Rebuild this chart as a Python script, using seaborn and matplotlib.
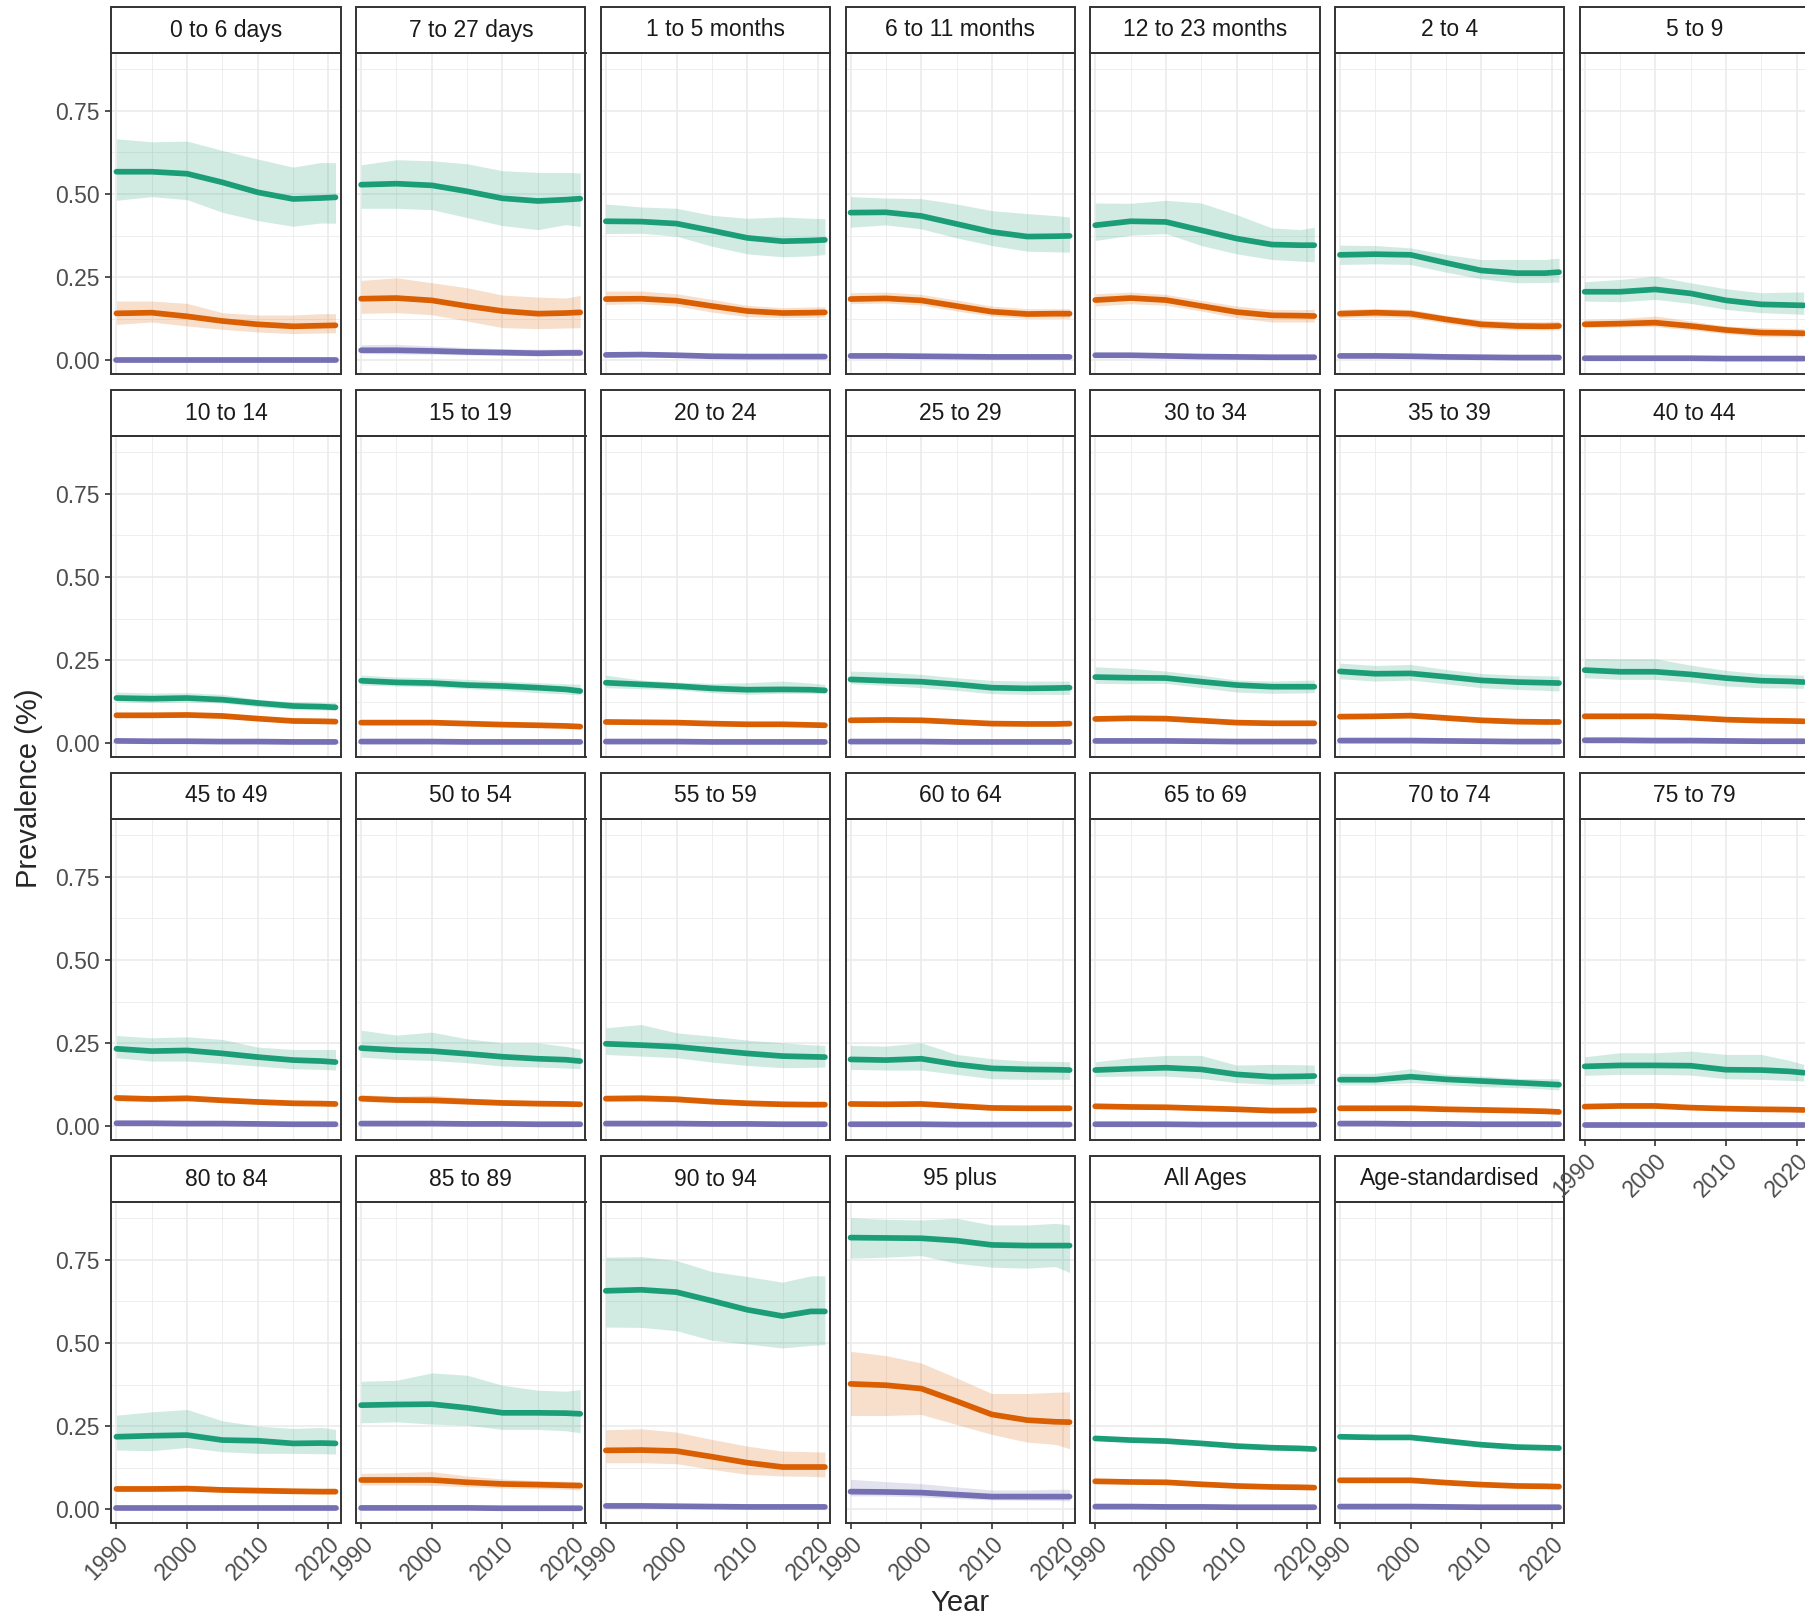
import pandas as pd
import matplotlib.pyplot as plt
import seaborn as sns
from matplotlib.patches import Rectangle

years = [1990, 1995, 2000, 2005, 2010, 2015, 2019, 2021]

ages = ['0 to 6 days', '7 to 27 days', '1 to 5 months', '6 to 11 months',
        '12 to 23 months', '2 to 4', '5 to 9',
        '10 to 14', '15 to 19', '20 to 24', '25 to 29', '30 to 34',
        '35 to 39', '40 to 44',
        '45 to 49', '50 to 54', '55 to 59', '60 to 64', '65 to 69',
        '70 to 74', '75 to 79',
        '80 to 84', '85 to 89', '90 to 94', '95 plus', 'All Ages',
        'Age-standardised']

series = ['Type A', 'Type B', 'Type C']
colors = ['#1B9E77', '#D95F02', '#7570B3']

# series A (green)
a_mean = [
    [0.567, 0.567, 0.561, 0.535, 0.505, 0.485, 0.488, 0.490],
    [0.528, 0.531, 0.526, 0.508, 0.487, 0.479, 0.483, 0.486],
    [0.418, 0.417, 0.411, 0.390, 0.368, 0.358, 0.360, 0.362],
    [0.444, 0.445, 0.434, 0.410, 0.386, 0.372, 0.373, 0.374],
    [0.406, 0.418, 0.416, 0.391, 0.366, 0.348, 0.346, 0.346],
    [0.317, 0.319, 0.317, 0.293, 0.270, 0.262, 0.262, 0.265],
    [0.206, 0.206, 0.213, 0.201, 0.180, 0.168, 0.166, 0.165],
    [0.136, 0.134, 0.136, 0.131, 0.121, 0.112, 0.110, 0.108],
    [0.188, 0.183, 0.181, 0.175, 0.172, 0.167, 0.162, 0.157],
    [0.182, 0.177, 0.172, 0.165, 0.161, 0.162, 0.161, 0.159],
    [0.192, 0.188, 0.185, 0.177, 0.167, 0.165, 0.166, 0.167],
    [0.199, 0.197, 0.196, 0.185, 0.175, 0.170, 0.170, 0.170],
    [0.216, 0.209, 0.210, 0.200, 0.189, 0.184, 0.182, 0.181],
    [0.220, 0.215, 0.215, 0.207, 0.196, 0.188, 0.186, 0.184],
    [0.233, 0.226, 0.228, 0.219, 0.208, 0.199, 0.196, 0.193],
    [0.235, 0.229, 0.226, 0.218, 0.209, 0.203, 0.200, 0.196],
    [0.248, 0.244, 0.239, 0.229, 0.219, 0.211, 0.209, 0.208],
    [0.201, 0.199, 0.203, 0.186, 0.174, 0.171, 0.170, 0.169],
    [0.169, 0.173, 0.176, 0.171, 0.156, 0.149, 0.150, 0.151],
    [0.140, 0.140, 0.149, 0.141, 0.136, 0.131, 0.127, 0.125],
    [0.180, 0.183, 0.183, 0.182, 0.170, 0.169, 0.165, 0.161],
    [0.218, 0.221, 0.223, 0.208, 0.206, 0.198, 0.199, 0.198],
    [0.313, 0.315, 0.316, 0.305, 0.290, 0.290, 0.289, 0.287],
    [0.657, 0.660, 0.653, 0.627, 0.600, 0.581, 0.595, 0.595],
    [0.817, 0.816, 0.815, 0.808, 0.795, 0.793, 0.793, 0.793],
    [0.213, 0.208, 0.205, 0.198, 0.190, 0.185, 0.183, 0.181],
    [0.218, 0.216, 0.216, 0.205, 0.194, 0.187, 0.185, 0.184],
]
a_lo = [
    [0.481, 0.492, 0.483, 0.445, 0.420, 0.403, 0.413, 0.412],
    [0.457, 0.457, 0.453, 0.429, 0.405, 0.393, 0.408, 0.402],
    [0.381, 0.382, 0.373, 0.343, 0.320, 0.311, 0.314, 0.318],
    [0.400, 0.407, 0.395, 0.368, 0.345, 0.328, 0.326, 0.325],
    [0.360, 0.376, 0.381, 0.345, 0.320, 0.303, 0.298, 0.296],
    [0.288, 0.290, 0.288, 0.265, 0.245, 0.233, 0.234, 0.235],
    [0.178, 0.176, 0.183, 0.171, 0.153, 0.143, 0.140, 0.138],
    [0.125, 0.122, 0.124, 0.121, 0.110, 0.102, 0.100, 0.099],
    [0.175, 0.172, 0.170, 0.164, 0.159, 0.152, 0.148, 0.145],
    [0.167, 0.164, 0.161, 0.152, 0.147, 0.150, 0.150, 0.149],
    [0.179, 0.174, 0.167, 0.159, 0.149, 0.147, 0.147, 0.147],
    [0.180, 0.179, 0.180, 0.167, 0.154, 0.150, 0.151, 0.152],
    [0.194, 0.187, 0.190, 0.179, 0.167, 0.162, 0.159, 0.157],
    [0.197, 0.192, 0.192, 0.184, 0.172, 0.167, 0.166, 0.165],
    [0.206, 0.196, 0.196, 0.189, 0.181, 0.173, 0.171, 0.169],
    [0.208, 0.201, 0.198, 0.191, 0.181, 0.178, 0.175, 0.173],
    [0.216, 0.211, 0.206, 0.193, 0.183, 0.176, 0.177, 0.178],
    [0.171, 0.169, 0.169, 0.156, 0.143, 0.141, 0.141, 0.141],
    [0.149, 0.151, 0.151, 0.144, 0.131, 0.126, 0.127, 0.128],
    [0.126, 0.126, 0.131, 0.126, 0.119, 0.116, 0.112, 0.109],
    [0.153, 0.156, 0.156, 0.154, 0.143, 0.141, 0.138, 0.136],
    [0.178, 0.176, 0.186, 0.173, 0.168, 0.168, 0.167, 0.166],
    [0.260, 0.263, 0.256, 0.253, 0.240, 0.240, 0.236, 0.230],
    [0.548, 0.547, 0.537, 0.508, 0.497, 0.485, 0.493, 0.495],
    [0.755, 0.758, 0.763, 0.740, 0.728, 0.725, 0.730, 0.712],
    [0.209, 0.204, 0.201, 0.194, 0.186, 0.181, 0.179, 0.177],
    [0.214, 0.212, 0.212, 0.201, 0.190, 0.183, 0.181, 0.180],
]
a_hi = [
    [0.666, 0.657, 0.659, 0.631, 0.605, 0.581, 0.595, 0.594],
    [0.588, 0.603, 0.600, 0.591, 0.570, 0.565, 0.565, 0.563],
    [0.470, 0.461, 0.457, 0.436, 0.427, 0.431, 0.427, 0.426],
    [0.492, 0.488, 0.486, 0.470, 0.450, 0.441, 0.435, 0.431],
    [0.473, 0.472, 0.481, 0.473, 0.438, 0.398, 0.393, 0.400],
    [0.346, 0.345, 0.338, 0.318, 0.303, 0.303, 0.303, 0.307],
    [0.236, 0.243, 0.253, 0.233, 0.215, 0.203, 0.205, 0.205],
    [0.154, 0.151, 0.152, 0.147, 0.132, 0.125, 0.123, 0.122],
    [0.205, 0.199, 0.197, 0.192, 0.187, 0.182, 0.179, 0.177],
    [0.205, 0.190, 0.184, 0.180, 0.182, 0.187, 0.181, 0.177],
    [0.217, 0.214, 0.207, 0.197, 0.189, 0.187, 0.187, 0.187],
    [0.230, 0.225, 0.217, 0.205, 0.190, 0.187, 0.189, 0.190],
    [0.241, 0.234, 0.237, 0.222, 0.210, 0.205, 0.203, 0.202],
    [0.255, 0.254, 0.254, 0.235, 0.219, 0.209, 0.206, 0.205],
    [0.273, 0.266, 0.269, 0.261, 0.238, 0.231, 0.231, 0.231],
    [0.289, 0.274, 0.283, 0.263, 0.251, 0.251, 0.240, 0.231],
    [0.296, 0.306, 0.281, 0.271, 0.259, 0.251, 0.245, 0.243],
    [0.243, 0.241, 0.251, 0.216, 0.203, 0.196, 0.195, 0.194],
    [0.194, 0.206, 0.213, 0.213, 0.184, 0.186, 0.185, 0.184],
    [0.159, 0.159, 0.173, 0.156, 0.151, 0.144, 0.143, 0.143],
    [0.209, 0.221, 0.221, 0.226, 0.216, 0.216, 0.198, 0.186],
    [0.283, 0.293, 0.300, 0.266, 0.250, 0.243, 0.246, 0.240],
    [0.385, 0.388, 0.410, 0.403, 0.373, 0.358, 0.355, 0.360],
    [0.758, 0.760, 0.748, 0.715, 0.700, 0.683, 0.702, 0.702],
    [0.877, 0.872, 0.870, 0.875, 0.855, 0.855, 0.860, 0.855],
    [0.217, 0.212, 0.209, 0.202, 0.194, 0.189, 0.187, 0.185],
    [0.222, 0.220, 0.220, 0.209, 0.198, 0.191, 0.189, 0.188],
]

# series B (orange)
b_mean = [
    [0.141, 0.143, 0.132, 0.118, 0.108, 0.102, 0.104, 0.105],
    [0.185, 0.187, 0.180, 0.163, 0.148, 0.140, 0.142, 0.144],
    [0.184, 0.185, 0.179, 0.163, 0.148, 0.142, 0.143, 0.144],
    [0.184, 0.186, 0.180, 0.163, 0.146, 0.139, 0.140, 0.140],
    [0.181, 0.187, 0.181, 0.163, 0.145, 0.135, 0.134, 0.133],
    [0.140, 0.143, 0.140, 0.123, 0.108, 0.103, 0.102, 0.103],
    [0.108, 0.110, 0.113, 0.103, 0.091, 0.083, 0.082, 0.081],
    [0.084, 0.084, 0.085, 0.082, 0.074, 0.067, 0.066, 0.065],
    [0.062, 0.062, 0.062, 0.059, 0.056, 0.054, 0.052, 0.050],
    [0.064, 0.063, 0.062, 0.059, 0.057, 0.057, 0.055, 0.054],
    [0.069, 0.070, 0.069, 0.064, 0.059, 0.058, 0.058, 0.059],
    [0.073, 0.075, 0.074, 0.068, 0.062, 0.060, 0.060, 0.060],
    [0.080, 0.081, 0.083, 0.076, 0.069, 0.065, 0.064, 0.064],
    [0.081, 0.081, 0.081, 0.077, 0.071, 0.068, 0.067, 0.066],
    [0.085, 0.082, 0.084, 0.078, 0.073, 0.069, 0.068, 0.067],
    [0.083, 0.079, 0.078, 0.074, 0.070, 0.068, 0.067, 0.066],
    [0.083, 0.084, 0.081, 0.074, 0.069, 0.066, 0.065, 0.065],
    [0.067, 0.066, 0.067, 0.061, 0.055, 0.054, 0.054, 0.054],
    [0.060, 0.058, 0.057, 0.054, 0.051, 0.047, 0.047, 0.048],
    [0.054, 0.054, 0.054, 0.051, 0.049, 0.047, 0.045, 0.043],
    [0.059, 0.061, 0.061, 0.056, 0.053, 0.051, 0.050, 0.049],
    [0.061, 0.061, 0.062, 0.058, 0.056, 0.054, 0.053, 0.053],
    [0.088, 0.088, 0.088, 0.081, 0.076, 0.074, 0.072, 0.071],
    [0.177, 0.178, 0.175, 0.158, 0.140, 0.127, 0.127, 0.127],
    [0.377, 0.373, 0.363, 0.325, 0.285, 0.268, 0.263, 0.262],
    [0.084, 0.082, 0.081, 0.075, 0.070, 0.067, 0.066, 0.065],
    [0.087, 0.087, 0.087, 0.080, 0.074, 0.070, 0.069, 0.068],
]
b_lo = [
    [0.108, 0.115, 0.103, 0.093, 0.085, 0.080, 0.082, 0.083],
    [0.141, 0.143, 0.137, 0.118, 0.098, 0.095, 0.097, 0.098],
    [0.168, 0.170, 0.163, 0.145, 0.131, 0.128, 0.129, 0.130],
    [0.170, 0.172, 0.166, 0.148, 0.133, 0.126, 0.126, 0.126],
    [0.163, 0.170, 0.165, 0.148, 0.128, 0.115, 0.115, 0.115],
    [0.128, 0.130, 0.128, 0.111, 0.096, 0.091, 0.091, 0.091],
    [0.098, 0.100, 0.101, 0.091, 0.080, 0.071, 0.070, 0.070],
    [0.077, 0.077, 0.078, 0.075, 0.068, 0.061, 0.060, 0.059],
    [0.057, 0.057, 0.057, 0.054, 0.051, 0.049, 0.047, 0.045],
    [0.059, 0.058, 0.057, 0.054, 0.052, 0.052, 0.050, 0.049],
    [0.063, 0.064, 0.063, 0.058, 0.054, 0.053, 0.053, 0.054],
    [0.067, 0.069, 0.068, 0.062, 0.056, 0.054, 0.054, 0.054],
    [0.073, 0.074, 0.076, 0.069, 0.063, 0.059, 0.058, 0.058],
    [0.074, 0.074, 0.074, 0.070, 0.065, 0.062, 0.061, 0.060],
    [0.076, 0.074, 0.076, 0.071, 0.066, 0.062, 0.061, 0.060],
    [0.074, 0.071, 0.070, 0.066, 0.063, 0.061, 0.060, 0.059],
    [0.075, 0.075, 0.073, 0.067, 0.062, 0.059, 0.058, 0.058],
    [0.061, 0.060, 0.061, 0.055, 0.050, 0.049, 0.049, 0.049],
    [0.054, 0.053, 0.052, 0.049, 0.046, 0.042, 0.042, 0.043],
    [0.049, 0.049, 0.049, 0.046, 0.044, 0.042, 0.040, 0.038],
    [0.053, 0.055, 0.055, 0.051, 0.048, 0.046, 0.045, 0.044],
    [0.053, 0.053, 0.054, 0.051, 0.049, 0.047, 0.046, 0.046],
    [0.073, 0.073, 0.072, 0.068, 0.064, 0.062, 0.060, 0.058],
    [0.140, 0.140, 0.137, 0.120, 0.105, 0.100, 0.099, 0.097],
    [0.282, 0.282, 0.285, 0.255, 0.225, 0.202, 0.195, 0.182],
    [0.081, 0.079, 0.078, 0.072, 0.067, 0.064, 0.063, 0.062],
    [0.084, 0.084, 0.084, 0.077, 0.071, 0.067, 0.066, 0.065],
]
b_hi = [
    [0.178, 0.178, 0.171, 0.143, 0.136, 0.136, 0.140, 0.140],
    [0.240, 0.248, 0.233, 0.218, 0.196, 0.190, 0.187, 0.195],
    [0.208, 0.208, 0.200, 0.183, 0.165, 0.158, 0.160, 0.161],
    [0.203, 0.205, 0.198, 0.181, 0.163, 0.155, 0.155, 0.155],
    [0.200, 0.205, 0.198, 0.180, 0.163, 0.153, 0.152, 0.153],
    [0.153, 0.156, 0.153, 0.135, 0.121, 0.116, 0.116, 0.118],
    [0.123, 0.125, 0.133, 0.118, 0.103, 0.098, 0.096, 0.095],
    [0.092, 0.093, 0.093, 0.090, 0.081, 0.074, 0.073, 0.072],
    [0.068, 0.068, 0.068, 0.065, 0.062, 0.060, 0.058, 0.056],
    [0.070, 0.069, 0.068, 0.065, 0.063, 0.063, 0.061, 0.060],
    [0.076, 0.077, 0.076, 0.071, 0.065, 0.064, 0.064, 0.065],
    [0.080, 0.082, 0.081, 0.075, 0.068, 0.066, 0.066, 0.066],
    [0.088, 0.089, 0.091, 0.083, 0.076, 0.071, 0.070, 0.070],
    [0.089, 0.089, 0.089, 0.084, 0.078, 0.075, 0.073, 0.072],
    [0.094, 0.091, 0.093, 0.086, 0.081, 0.077, 0.075, 0.074],
    [0.095, 0.090, 0.093, 0.085, 0.080, 0.077, 0.075, 0.074],
    [0.093, 0.095, 0.092, 0.084, 0.078, 0.075, 0.073, 0.073],
    [0.074, 0.073, 0.074, 0.068, 0.061, 0.060, 0.060, 0.060],
    [0.066, 0.065, 0.064, 0.061, 0.057, 0.053, 0.053, 0.054],
    [0.060, 0.060, 0.060, 0.057, 0.055, 0.053, 0.051, 0.049],
    [0.067, 0.069, 0.070, 0.064, 0.060, 0.058, 0.056, 0.055],
    [0.071, 0.071, 0.072, 0.068, 0.065, 0.063, 0.062, 0.062],
    [0.108, 0.110, 0.113, 0.100, 0.091, 0.086, 0.084, 0.083],
    [0.239, 0.242, 0.232, 0.210, 0.190, 0.175, 0.173, 0.172],
    [0.475, 0.462, 0.440, 0.395, 0.348, 0.348, 0.352, 0.353],
    [0.087, 0.085, 0.084, 0.078, 0.073, 0.070, 0.069, 0.068],
    [0.090, 0.090, 0.090, 0.083, 0.077, 0.073, 0.072, 0.071],
]

# series C (purple)
c_mean = [
    [0.002, 0.002, 0.002, 0.002, 0.002, 0.002, 0.002, 0.002],
    [0.030, 0.030, 0.028, 0.025, 0.023, 0.021, 0.022, 0.022],
    [0.016, 0.017, 0.015, 0.012, 0.011, 0.011, 0.011, 0.011],
    [0.013, 0.013, 0.012, 0.011, 0.010, 0.010, 0.010, 0.010],
    [0.015, 0.015, 0.013, 0.011, 0.010, 0.009, 0.009, 0.009],
    [0.013, 0.013, 0.012, 0.010, 0.009, 0.008, 0.008, 0.008],
    [0.006, 0.006, 0.006, 0.006, 0.005, 0.005, 0.005, 0.005],
    [0.007, 0.006, 0.006, 0.005, 0.005, 0.004, 0.004, 0.004],
    [0.005, 0.005, 0.005, 0.004, 0.004, 0.004, 0.004, 0.004],
    [0.005, 0.005, 0.005, 0.004, 0.004, 0.004, 0.004, 0.004],
    [0.005, 0.005, 0.005, 0.004, 0.004, 0.004, 0.004, 0.004],
    [0.007, 0.007, 0.007, 0.006, 0.005, 0.005, 0.005, 0.005],
    [0.008, 0.008, 0.008, 0.007, 0.006, 0.005, 0.005, 0.005],
    [0.009, 0.009, 0.008, 0.008, 0.007, 0.006, 0.006, 0.006],
    [0.009, 0.009, 0.008, 0.008, 0.007, 0.006, 0.006, 0.006],
    [0.008, 0.008, 0.008, 0.007, 0.007, 0.006, 0.006, 0.006],
    [0.008, 0.008, 0.008, 0.007, 0.007, 0.006, 0.006, 0.006],
    [0.006, 0.006, 0.006, 0.005, 0.005, 0.005, 0.005, 0.005],
    [0.006, 0.006, 0.006, 0.005, 0.005, 0.005, 0.005, 0.005],
    [0.008, 0.008, 0.007, 0.007, 0.006, 0.006, 0.006, 0.006],
    [0.005, 0.005, 0.005, 0.005, 0.005, 0.005, 0.005, 0.005],
    [0.003, 0.003, 0.003, 0.003, 0.003, 0.003, 0.003, 0.003],
    [0.004, 0.004, 0.004, 0.004, 0.003, 0.003, 0.003, 0.003],
    [0.010, 0.010, 0.009, 0.008, 0.007, 0.007, 0.007, 0.007],
    [0.053, 0.052, 0.050, 0.044, 0.038, 0.038, 0.038, 0.038],
    [0.008, 0.008, 0.007, 0.007, 0.006, 0.006, 0.006, 0.006],
    [0.008, 0.008, 0.008, 0.007, 0.006, 0.006, 0.006, 0.006],
]
c_lo = [
    [0.000, 0.000, 0.000, 0.000, 0.000, 0.000, 0.000, 0.000],
    [0.020, 0.019, 0.018, 0.016, 0.015, 0.013, 0.014, 0.014],
    [0.012, 0.013, 0.011, 0.009, 0.008, 0.008, 0.008, 0.008],
    [0.010, 0.010, 0.009, 0.008, 0.007, 0.007, 0.007, 0.007],
    [0.011, 0.011, 0.010, 0.008, 0.007, 0.006, 0.006, 0.006],
    [0.010, 0.010, 0.009, 0.007, 0.006, 0.005, 0.005, 0.005],
    [0.004, 0.004, 0.004, 0.004, 0.003, 0.003, 0.003, 0.003],
    [0.005, 0.004, 0.004, 0.003, 0.003, 0.002, 0.002, 0.002],
    [0.003, 0.003, 0.003, 0.002, 0.002, 0.002, 0.002, 0.002],
    [0.003, 0.003, 0.003, 0.002, 0.002, 0.002, 0.002, 0.002],
    [0.003, 0.003, 0.003, 0.002, 0.002, 0.002, 0.002, 0.002],
    [0.005, 0.005, 0.005, 0.004, 0.003, 0.003, 0.003, 0.003],
    [0.006, 0.006, 0.006, 0.005, 0.004, 0.003, 0.003, 0.003],
    [0.007, 0.007, 0.006, 0.006, 0.005, 0.004, 0.004, 0.004],
    [0.007, 0.007, 0.006, 0.006, 0.005, 0.004, 0.004, 0.004],
    [0.006, 0.006, 0.006, 0.005, 0.005, 0.004, 0.004, 0.004],
    [0.006, 0.006, 0.006, 0.005, 0.005, 0.004, 0.004, 0.004],
    [0.004, 0.004, 0.004, 0.003, 0.003, 0.003, 0.003, 0.003],
    [0.004, 0.004, 0.004, 0.003, 0.003, 0.003, 0.003, 0.003],
    [0.006, 0.006, 0.005, 0.005, 0.004, 0.004, 0.004, 0.004],
    [0.003, 0.003, 0.003, 0.003, 0.003, 0.003, 0.003, 0.003],
    [0.001, 0.001, 0.001, 0.001, 0.001, 0.001, 0.001, 0.001],
    [0.002, 0.002, 0.002, 0.002, 0.001, 0.001, 0.001, 0.001],
    [0.007, 0.007, 0.006, 0.005, 0.004, 0.004, 0.004, 0.004],
    [0.040, 0.040, 0.037, 0.032, 0.028, 0.027, 0.026, 0.025],
    [0.007, 0.007, 0.006, 0.006, 0.005, 0.005, 0.005, 0.005],
    [0.007, 0.007, 0.007, 0.006, 0.005, 0.005, 0.005, 0.005],
]
c_hi = [
    [0.004, 0.004, 0.004, 0.004, 0.004, 0.004, 0.004, 0.004],
    [0.047, 0.048, 0.043, 0.038, 0.035, 0.033, 0.034, 0.035],
    [0.020, 0.021, 0.019, 0.016, 0.014, 0.014, 0.014, 0.014],
    [0.016, 0.016, 0.015, 0.014, 0.013, 0.013, 0.013, 0.013],
    [0.019, 0.019, 0.017, 0.014, 0.013, 0.012, 0.012, 0.012],
    [0.016, 0.016, 0.015, 0.013, 0.012, 0.011, 0.011, 0.011],
    [0.008, 0.008, 0.008, 0.008, 0.007, 0.007, 0.007, 0.007],
    [0.009, 0.008, 0.008, 0.007, 0.007, 0.006, 0.006, 0.006],
    [0.007, 0.007, 0.007, 0.006, 0.006, 0.006, 0.006, 0.006],
    [0.007, 0.007, 0.007, 0.006, 0.006, 0.006, 0.006, 0.006],
    [0.007, 0.007, 0.007, 0.006, 0.006, 0.006, 0.006, 0.006],
    [0.009, 0.009, 0.009, 0.008, 0.007, 0.007, 0.007, 0.007],
    [0.010, 0.010, 0.010, 0.009, 0.008, 0.007, 0.007, 0.007],
    [0.011, 0.011, 0.010, 0.010, 0.009, 0.008, 0.008, 0.008],
    [0.011, 0.011, 0.010, 0.010, 0.009, 0.008, 0.008, 0.008],
    [0.010, 0.010, 0.010, 0.009, 0.009, 0.008, 0.008, 0.008],
    [0.010, 0.010, 0.010, 0.009, 0.009, 0.008, 0.008, 0.008],
    [0.008, 0.008, 0.008, 0.007, 0.007, 0.007, 0.007, 0.007],
    [0.008, 0.008, 0.008, 0.007, 0.007, 0.007, 0.007, 0.007],
    [0.010, 0.010, 0.009, 0.009, 0.008, 0.008, 0.008, 0.008],
    [0.007, 0.007, 0.007, 0.007, 0.007, 0.007, 0.007, 0.007],
    [0.005, 0.005, 0.005, 0.005, 0.005, 0.005, 0.005, 0.005],
    [0.006, 0.006, 0.006, 0.006, 0.005, 0.005, 0.005, 0.005],
    [0.013, 0.013, 0.012, 0.011, 0.010, 0.010, 0.010, 0.010],
    [0.090, 0.083, 0.077, 0.067, 0.058, 0.058, 0.060, 0.060],
    [0.010, 0.010, 0.009, 0.009, 0.008, 0.008, 0.008, 0.008],
    [0.010, 0.010, 0.010, 0.009, 0.008, 0.008, 0.008, 0.008],
]

# long table for seaborn
rows = []
for s, (m_all, lo_all, hi_all) in zip(series, [(a_mean, a_lo, a_hi),
                                              (b_mean, b_lo, b_hi),
                                              (c_mean, c_lo, c_hi)]):
    for i, age in enumerate(ages):
        for j, yr in enumerate(years):
            rows.append({'age': age, 'series': s, 'year': yr,
                         'val': m_all[i][j], 'lower': lo_all[i][j],
                         'upper': hi_all[i][j]})
df = pd.DataFrame(rows)

sns.set_style('white')
plt.rcParams['font.family'] = ['Liberation Sans', 'DejaVu Sans']

palette = dict(zip(series, colors))


def draw_panel(data, **kws):
    ax = plt.gca()
    for s in series:
        d = data[data['series'] == s]
        ax.fill_between(d['year'], d['lower'], d['upper'],
                        color=palette[s], alpha=0.2, lw=0)
    sns.lineplot(data=data, x='year', y='val', hue='series',
                 hue_order=series, palette=palette, lw=4.1,
                 legend=False, errorbar=None, ax=ax)


g = sns.FacetGrid(df, col='age', col_order=ages, col_wrap=7,
                  sharex=True, sharey=True, despine=False,
                  height=3.2, aspect=0.72)
g.map_dataframe(draw_panel)
g.set_titles('')
g.set_axis_labels('', '')

fig = g.figure
fig.set_size_inches(18.06, 16.22)
W, H = 1806.0, 1622.0

# panel geometry in pixels
left0, pitch_x, pw = 111.5, 244.7, 229.3
top0, pitch_y, ph = 52.7, 383.0, 321.5
strip_h = 45.4

n = len(ages)
for i, ax in enumerate(g.axes.flat):
    r, c = divmod(i, 7)
    x0 = left0 + c * pitch_x
    y_top = top0 + r * pitch_y
    ax.set_position([x0 / W, 1 - (y_top + ph) / H, pw / W, ph / H])

    ax.set_xlim(1989.3, 2021.75)
    ax.set_ylim(-0.042, 0.925)
    ax.set_xticks([1990, 2000, 2010, 2020])
    ax.set_xticks([1995, 2005, 2015], minor=True)
    ax.set_yticks([0, 0.25, 0.5, 0.75])
    ax.set_yticks([0.125, 0.375, 0.625, 0.875], minor=True)
    ax.set_yticklabels(['0.00', '0.25', '0.50', '0.75'])
    ax.set_axisbelow(True)
    ax.grid(which='major', color='#EBEBEB', lw=1.2)
    ax.grid(which='minor', color='#EBEBEB', lw=0.6)
    for sp in ax.spines.values():
        sp.set_color('#333333')
        sp.set_linewidth(1.4)

    is_bottom = i >= n - 7
    is_left = c == 0
    ax.tick_params(which='minor', length=0)
    ax.tick_params(which='major', length=4.5, width=1.2, color='#333333',
                   labelsize=16.5, labelcolor='#4D4D4D',
                   bottom=is_bottom, labelbottom=is_bottom,
                   left=is_left, labelleft=is_left)
    ax.tick_params(axis='x', pad=2)
    ax.tick_params(axis='y', pad=4)
    if is_bottom:
        for lab in ax.get_xticklabels():
            lab.set_rotation(45)
            lab.set_ha('right')
            lab.set_va('top')
            lab.set_rotation_mode('anchor')
    if is_bottom and r < 3:
        # keep tick labels of the short last column above neighbour strips
        ax.set_zorder(2)

    # facet strip
    sh = strip_h / ph
    ax.add_patch(Rectangle((0, 1), 1, sh, transform=ax.transAxes,
                           facecolor='white', edgecolor='#333333',
                           lw=1.4, clip_on=False))
    ax.text(0.5, 1 + sh / 2, ages[i], transform=ax.transAxes,
            ha='center', va='center', fontsize=16.5, color='#1A1A1A')

fig.text(29 / W, 1 - 788 / H, 'Prevalence (%)', rotation=90,
         ha='center', va='center', fontsize=21)
fig.text(960 / W, 1 - 1603 / H, 'Year', ha='center', va='center',
         fontsize=21)

fig.savefig('out.png', dpi=100)
